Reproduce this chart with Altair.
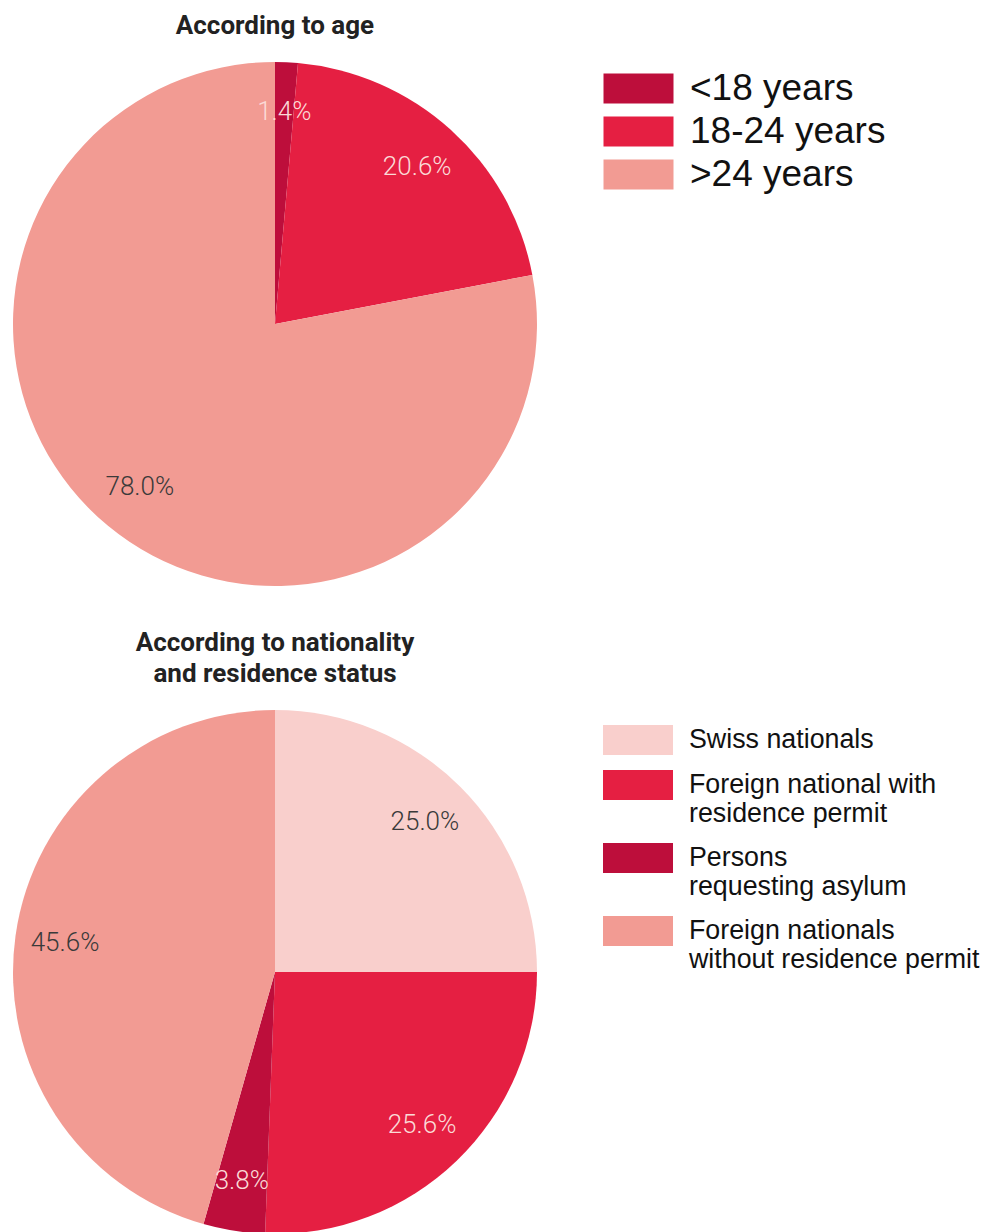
import altair as alt
import pandas as pd

# ---- data ----
age_categories = ["<18 years", "18-24 years", ">24 years"]
age_values = [1.4, 20.6, 78.0]
age_colors = ["#BD0E3B", "#E51F42", "#F29B93"]
age_dark_labels = [">24 years"]

nat_categories = [
    "Swiss nationals",
    "Foreign national with residence permit",
    "Persons requesting asylum",
    "Foreign nationals without residence permit",
]
nat_values = [25.0, 25.6, 3.8, 45.6]
nat_colors = ["#F9CFCC", "#E51F42", "#BD0E3B", "#F29B93"]
nat_legend_lines = [
    ["Swiss nationals"],
    ["Foreign national with", "residence permit"],
    ["Persons", "requesting asylum"],
    ["Foreign nationals", "without residence permit"],
]
nat_dark_labels = ["Swiss nationals", "Foreign nationals without residence permit"]

# wide rectangle symbol: 70 x 30 px at symbolSize 900
RECT = "M-2.3333,-1H2.3333V1H-2.3333Z"


def label_expr(cats, lines):
    expr = "datum.label"
    for c, ls in reversed(list(zip(cats, lines))):
        arr = "[" + ",".join("'" + l + "'" for l in ls) + "]"
        expr = f"datum.label == '{c}' ? {arr} : ({expr})"
    return expr


def pie(cats, vals, colors, dark, title, legend):
    df = pd.DataFrame({"category": cats, "value": vals, "idx": list(range(len(cats)))})
    base = alt.Chart(df).transform_calculate(
        label="format(datum.value, '.1f') + '%'"
    ).encode(
        theta=alt.Theta("value:Q", stack=True),
        order=alt.Order("idx:Q"),
    )
    arcs = base.mark_arc(strokeWidth=0).encode(
        color=alt.Color(
            "category:N",
            scale=alt.Scale(domain=cats, range=colors),
            sort=cats,
            legend=legend,
        )
    )
    text = base.mark_text(radius=212, fontSize=26, font="Roboto", fontWeight=300).encode(
        text="label:N",
        color=alt.condition(
            alt.FieldOneOfPredicate(field="category", oneOf=dark),
            alt.value("#3a3a3a"),
            alt.value("#FBDAD7"),
        ),
    )
    return alt.layer(arcs, text).properties(width=524, height=524, title=title)


top_title = alt.TitleParams(
    "According to age", font="Roboto", fontSize=26, fontWeight="bold",
    color="#222222", offset=-3, baseline="bottom", anchor="middle", frame="group",
)
bot_title = alt.TitleParams(
    ["According to nationality", "and residence status"], font="Roboto", fontSize=26,
    fontWeight="bold", color="#222222", offset=-3, baseline="bottom",
    anchor="middle", frame="group", lineHeight=31,
)

top_legend = alt.Legend(
    title=None, orient="none", legendX=607, legendY=8, symbolType=RECT,
    symbolSize=900, symbolStrokeWidth=0, labelFontSize=37,
    labelFont="Liberation Sans", labelColor="#111111", rowPadding=5,
    padding=0, labelOffset=33, labelLimit=500,
)
bot_legend = alt.Legend(
    title=None, orient="none", legendX=610, legendY=15, symbolType=RECT,
    symbolSize=900, symbolStrokeWidth=0, labelFontSize=26.8,
    labelFont="Liberation Sans", labelColor="#111111", rowPadding=15,
    padding=0, labelOffset=36, labelLimit=500,
    labelExpr=label_expr(nat_categories, nat_legend_lines),
)

top = pie(age_categories, age_values, age_colors, age_dark_labels, top_title, top_legend)
bottom = pie(nat_categories, nat_values, nat_colors, nat_dark_labels, bot_title, bot_legend)

chart = (
    alt.vconcat(top, bottom, spacing=44)
    .resolve_scale(color="independent")
    .resolve_legend(color="independent")
    .configure_view(stroke=None)
    .properties(background="white", padding={"left": 5, "top": 5, "right": 0, "bottom": 5})
)

chart.save("out.html", embed_options={"renderer": "svg", "actions": False})
